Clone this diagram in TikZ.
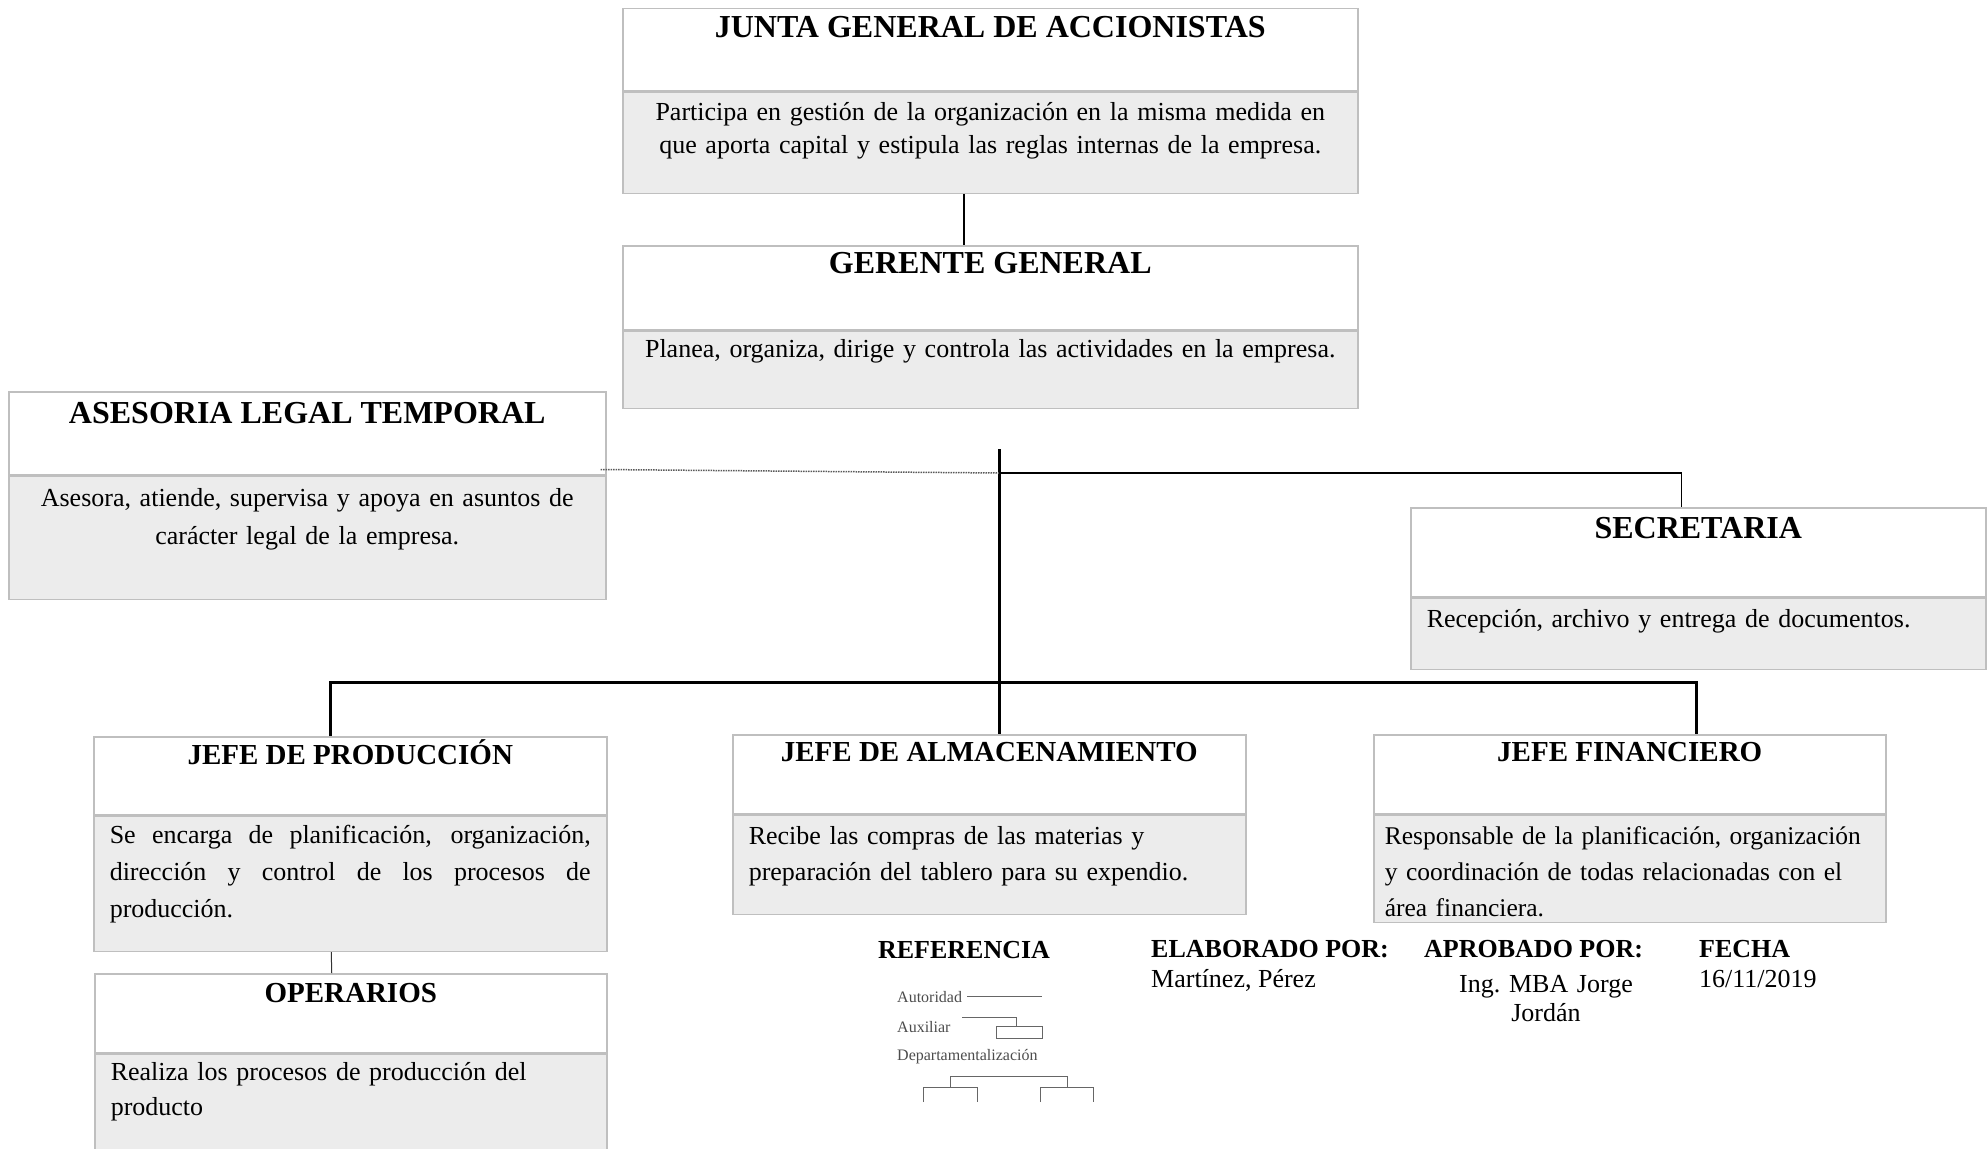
\documentclass[tikz,border=0pt]{standalone}
\usepackage{fontspec}
\setmainfont{Liberation Serif}
\usetikzlibrary{positioning}
\begin{document}
\begin{tikzpicture}[
    x=1pt, y=-1pt,
    cargo/.style={rectangle, draw=gray!50, line width=1.5pt, fill=white, anchor=north west, inner sep=0pt, font=\bfseries\fontsize{32}{38}\selectfont},
    subcargo/.style={cargo, font=\bfseries\fontsize{29}{35}\selectfont},
    info/.style={rectangle, draw=gray!50, line width=1.5pt, fill=gray!15, inner xsep=16pt, inner ysep=0pt, align=center, font=\fontsize{26}{33}\selectfont},
    infoizq/.style={info, align=left, font=\fontsize{26}{36}\selectfont},
    autoridad/.style={line width=2pt},
    bus/.style={line width=3pt},
    auxiliar/.style={line width=1.5pt},
    punteado/.style={densely dotted, gray!70!black, line width=1.5pt},
    pie/.style={inner sep=0pt, font=\bfseries\fontsize{26}{30}\selectfont},
    dato/.style={inner sep=0pt, font=\fontsize{26}{30}\selectfont},
    leyenda/.style={inner sep=2pt, text=black!70, font=\fontsize{16}{18}\selectfont},
    muestra/.style={draw=black!60, line width=1pt},
    minicaja/.style={rectangle, inner sep=0pt}
]
    \useasboundingbox (0,0) rectangle (1988,1148);

    \node[cargo, minimum width=735pt, text height=29pt, text depth=53pt] (junta) at (622,8) {JUNTA GENERAL DE ACCIONISTAS};
    \node[info, text width=703pt, text height=28pt, text depth=73pt, below=0pt of junta] (juntainfo) {Participa en gestión de la organización en la misma medida en\\que aporta capital y estipula las reglas internas de la empresa.};

    \node[cargo, minimum width=735pt, text height=28pt, text depth=56pt] (gerente) at (622,245) {GERENTE GENERAL};
    \node[info, text width=703pt, text height=26pt, text depth=51pt, below=0pt of gerente] (gerenteinfo) {Planea, organiza, dirige y controla las actividades en la empresa.};

    \node[cargo, minimum width=597pt, text height=32pt, text depth=51pt] (asesoria) at (8,391) {ASESORIA LEGAL TEMPORAL};
    \node[info, text width=565pt, text height=30pt, text depth=93pt, font=\fontsize{26}{38}\selectfont, below=0pt of asesoria] (asesoriainfo) {Asesora, atiende, supervisa y apoya en asuntos de\\carácter legal de la empresa.};

    \node[cargo, minimum width=575pt, text height=31pt, text depth=58pt] (secretaria) at (1410,507) {SECRETARIA};
    \node[infoizq, text width=543pt, text height=29pt, text depth=42pt, below=0pt of secretaria] (secretariainfo) {Recepción, archivo y entrega de documentos.};

    \node[subcargo, minimum width=513pt, text height=28pt, text depth=50pt] (produccion) at (93,736) {JEFE DE PRODUCCIÓN};
    \node[infoizq, align=justify, text width=481pt, text height=27pt, text depth=108pt, font=\fontsize{26}{37}\selectfont, below=0pt of produccion] (produccioninfo) {Se encarga de planificación, organización,\linebreak dirección y control de los procesos de\linebreak producción.};

    \node[subcargo, minimum width=513pt, text height=27pt, text depth=52pt] (almacen) at (732,734) {JEFE DE ALMACENAMIENTO};
    \node[infoizq, text width=481pt, text height=29pt, text depth=70pt, below=0pt of almacen] (almaceninfo) {Recibe las compras de las materias y\\preparación del tablero para su expendio.};

    \node[subcargo, minimum width=512pt, text height=27pt, text depth=52pt] (financiero) at (1373,734) {JEFE FINANCIERO};
    \node[infoizq, inner xsep=11pt, text width=490pt, text height=29pt, text depth=78pt, font=\fontsize{25.5}{36}\selectfont, below=0pt of financiero] (financieroinfo) {Responsable de la planificación, organización\\y coordinación de todas relacionadas con el\\área financiera.};

    \node[subcargo, minimum width=512pt, text height=29pt, text depth=50pt] (operarios) at (94,973) {OPERARIOS};
    \node[infoizq, text width=480pt, text height=26pt, text depth=120pt, font=\fontsize{26}{35}\selectfont, below=0pt of operarios] (operariosinfo) {Realiza los procesos de producción del\\producto};

    \coordinate (eje) at (999,449);
    \coordinate (cruce) at (999,473);
    \coordinate (ramal) at (999,682);

    \draw[autoridad] ([xshift=-26pt]juntainfo.south) -- ([xshift=-26pt]gerente.north);
    \draw[bus] (eje) -- (eje |- almacen.north);
    \draw[punteado] ([xshift=-6pt,yshift=6pt]asesoria.south east) -- (cruce);
    \draw[auxiliar] (cruce) -| ([xshift=-17pt]secretaria.north);
    \draw[bus] ([xshift=-20pt]produccion.north) |- (ramal) -| ([xshift=67pt]financiero.north);
    \draw[line width=1pt, black!80] ([xshift=-19pt]produccioninfo.south) -- ([xshift=-19pt]operarios.north);

    \node[pie, anchor=base] (referencia) at (964,958) {REFERENCIA};
    \node[pie, anchor=base west] (elaborado) at (1151,957) {ELABORADO POR:};
    \node[dato, anchor=base west] (autores) at (1151,987) {Martínez, Pérez};
    \node[pie, anchor=base west] (aprobado) at (1424,957) {APROBADO POR:};
    \node[dato, anchor=base, text width=220pt, align=center, font=\fontsize{26}{29}\selectfont] (aprobador) at (1546,992) {Ing.\ MBA Jorge\\Jordán};
    \node[pie, anchor=base west] (fecha) at (1699,957) {FECHA};
    \node[dato, anchor=base west] (fechavalor) at (1699,987) {16/11/2019};

    \node[leyenda, anchor=base west] (txtautoridad) at (895,1002) {Autoridad};
    \node[leyenda, anchor=base west] (txtauxiliar) at (895,1032) {Auxiliar};
    \node[leyenda, anchor=base west] (txtdepto) at (895,1060) {Departamentalización};
    \coordinate (autfin) at (1042,998);
    \coordinate (auxini) at (962,1017);
    \coordinate (depbus) at (1008,1076);
    \node[minicaja, draw=black!60, line width=1pt, minimum width=46pt, minimum height=12pt] (auxcaja) at (1019,1032) {};
    \node[minicaja, minimum width=53pt, minimum height=14pt] (depizq) at (950.5,1095) {};
    \node[minicaja, minimum width=52pt, minimum height=14pt] (depder) at (1067,1095) {};

    \draw[muestra] ([xshift=3pt]txtautoridad.east) -- (txtautoridad.east -| autfin);
    \draw[muestra] (auxini) -| ([xshift=-3pt]auxcaja.north);
    \draw[muestra] (depizq.north) |- (depbus) -| (depder.north);
    \draw[muestra] (depizq.south west) |- (depizq.north east) -- (depizq.south east);
    \draw[muestra] (depder.south west) |- (depder.north east) -- (depder.south east);
\end{tikzpicture}
\end{document}
